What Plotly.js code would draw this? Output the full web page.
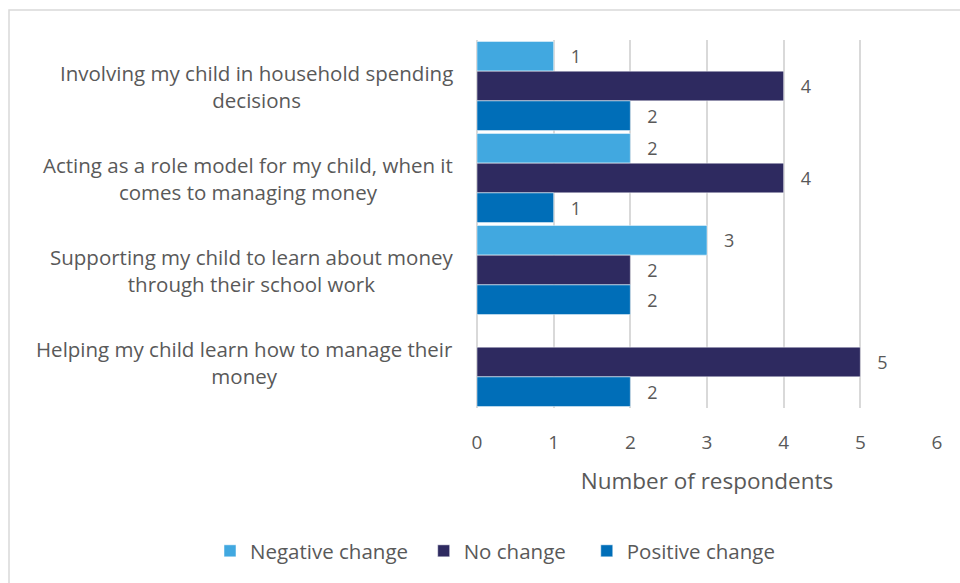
<!DOCTYPE html>
<html>
<head>
<meta charset="utf-8">
<script src="https://cdn.plot.ly/plotly-3.0.1.min.js"></script>
<style>html,body{margin:0;padding:0;background:#fff;}#chart{width:960px;height:583px;}</style>
</head>
<body>
<div id="chart"></div>
<script>
const categories = [
  "Involving my child in household spending<br>decisions",
  "Acting as a role model for my child, when it<br>comes to managing money",
  "Supporting my child to learn about money<br>through their school work",
  "Helping my child learn how to manage their<br>money"
];
const seriesNames = ["Negative change", "No change", "Positive change"];
const negativeChange = [1, 2, 3, null];
const noChange = [4, 4, 2, 5];
const positiveChange = [2, 1, 2, 2];
const xTicks = [0, 1, 2, 3, 4, 5, 6];

const colors = ["#41A8E0", "#2E2A60", "#006EB8"];
const values = [negativeChange, noChange, positiveChange];
const cats = categories.map((c, i) => "c" + i);

const FAM = "'Open Sans', sans-serif";
const GRAY = "#595959";
const legendPad = ["\u00a0\u00a0", "\u00a0\u00a0\u00a0", ""];

const traces = values.map((v, i) => ({
  type: "bar",
  orientation: "h",
  name: seriesNames[i] + legendPad[i],
  y: cats,
  x: v,
  marker: {color: colors[i], line: {color: "#ffffff", width: 0.5}},
  text: v.map(d => d == null ? "" : "\u00a0\u00a0\u00a0" + d),
  textposition: "outside",
  textfont: {family: FAM, size: 18, color: GRAY},
  cliponaxis: false,
  hoverinfo: "x+name"
}));

const L = 477, R = 937, T = 40, B = 408;
const W = R - L, H = B - T;

const annotations = categories.map((c, i) => ({
  xref: "paper", yref: "y",
  x: 0, y: cats[i],
  xanchor: "right", yanchor: "middle",
  xshift: -22,
  align: "center",
  text: c,
  showarrow: false,
  font: {family: FAM, size: 20.5, color: GRAY}
}));

const layout = {
  width: 960, height: 583,
  margin: {l: L, r: 960 - R, t: T, b: 583 - B, autoexpand: false},
  paper_bgcolor: "#ffffff",
  plot_bgcolor: "#ffffff",
  barmode: "group",
  bargap: 0.03,
  bargroupgap: 0,
  showlegend: true,
  legend: {
    orientation: "h",
    x: (210 - L) / W, xanchor: "left",
    y: (B - 551) / H, yanchor: "middle",
    font: {family: FAM, size: 20.5, color: GRAY},
    traceorder: "normal",
    itemwidth: 30
  },
  xaxis: {
    range: [0, 6],
    tickvals: xTicks,
    ticktext: xTicks.map(String),
    showgrid: true,
    gridcolor: "#d9d9d9",
    gridwidth: 2,
    zeroline: true,
    zerolinecolor: "#d9d9d9",
    zerolinewidth: 2,
    ticks: "outside",
    ticklen: 17,
    tickcolor: "rgba(0,0,0,0)",
    tickfont: {family: FAM, size: 19, color: GRAY},
    title: {text: "Number of respondents", standoff: 19,
            font: {family: FAM, size: 22.5, color: GRAY}},
    fixedrange: true
  },
  yaxis: {
    type: "category",
    autorange: "reversed",
    showticklabels: false,
    showgrid: false,
    zeroline: false,
    ticks: "",
    fixedrange: true
  },
  annotations: annotations,
  shapes: [{
    type: "rect", xref: "paper", yref: "paper",
    x0: (9 - L) / W, x1: (965 - L) / W,
    y0: (B - 600) / H, y1: 1 + (T - 10) / H,
    line: {color: "#d9d9d9", width: 1.5},
    fillcolor: "rgba(0,0,0,0)",
    layer: "below"
  }]
};

Plotly.newPlot("chart", traces, layout, {displayModeBar: false, staticPlot: true});
</script>
</body>
</html>
